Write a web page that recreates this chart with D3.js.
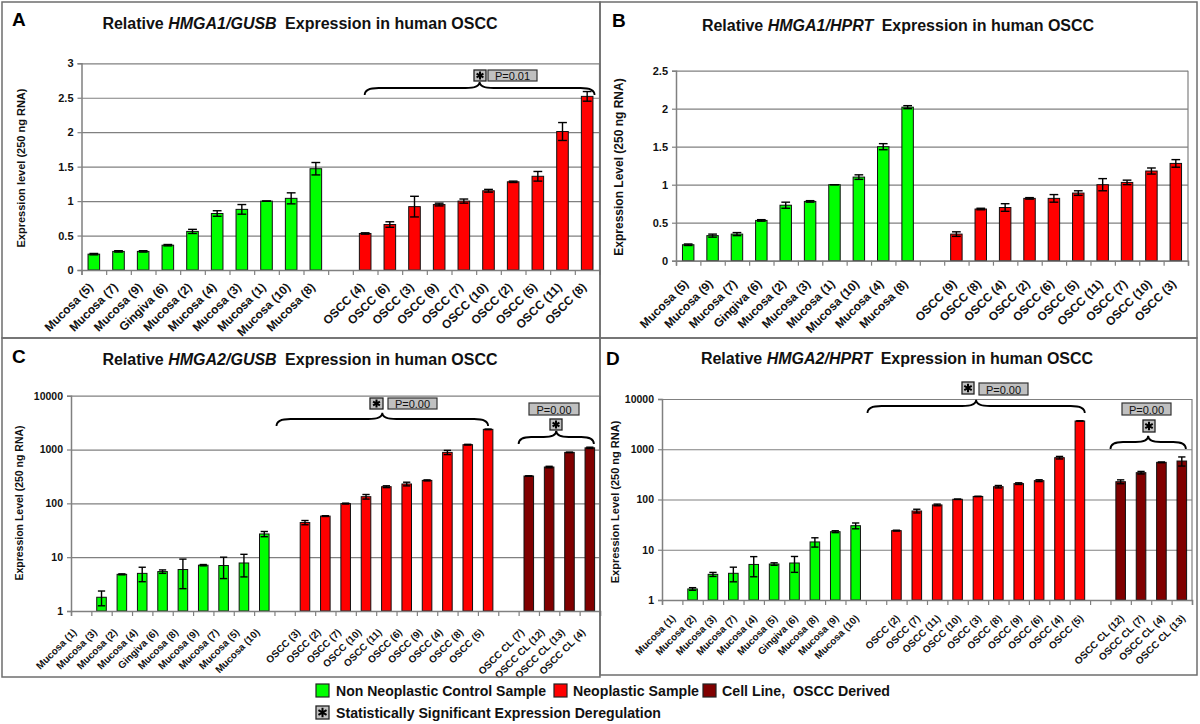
<!DOCTYPE html>
<html><head><meta charset="utf-8">
<script src="https://cdn.jsdelivr.net/npm/d3@7"></script>
<style>
body{margin:0;background:#fff;}
svg{display:block;font-family:Arial,"Liberation Sans",Helvetica,sans-serif;}
</style></head><body>
<svg id="chart" width="1200" height="724"></svg>
<script>
// ---------- DATA ----------
// Panel A: HMGA1/GUSB
const aControlLabels = ["Mucosa (5)","Mucosa (7)","Mucosa (9)","Gingiva (6)","Mucosa (2)","Mucosa (4)","Mucosa (3)","Mucosa (1)","Mucosa (10)","Mucosa (8)"];
const aControlValues = [0.23,0.27,0.27,0.36,0.56,0.82,0.88,1.0,1.04,1.47];
const aControlErrors = [0.01,0.01,0.01,0.01,0.03,0.04,0.07,0.0,0.08,0.09];
const aTumorLabels = ["OSCC (4)","OSCC (6)","OSCC (3)","OSCC (9)","OSCC (7)","OSCC (10)","OSCC (2)","OSCC (5)","OSCC (11)","OSCC (8)"];
const aTumorValues = [0.53,0.66,0.92,0.95,1.0,1.15,1.28,1.36,2.01,2.52];
const aTumorErrors = [0.01,0.04,0.15,0.02,0.03,0.02,0.01,0.07,0.13,0.07];
const aTicks = [0,0.5,1,1.5,2,2.5,3];

// Panel B: HMGA1/HPRT
const bControlLabels = ["Mucosa (5)","Mucosa (9)","Mucosa (7)","Gingiva (6)","Mucosa (2)","Mucosa (3)","Mucosa (1)","Mucosa (10)","Mucosa (4)","Mucosa (8)"];
const bControlValues = [0.21,0.33,0.35,0.53,0.73,0.78,1.0,1.10,1.50,2.02];
const bControlErrors = [0.01,0.02,0.02,0.01,0.04,0.01,0.0,0.03,0.04,0.02];
const bTumorLabels = ["OSCC (9)","OSCC (8)","OSCC (4)","OSCC (2)","OSCC (6)","OSCC (5)","OSCC (11)","OSCC (7)","OSCC (10)","OSCC (3)"];
const bTumorValues = [0.35,0.68,0.70,0.82,0.82,0.89,1.0,1.03,1.18,1.28];
const bTumorErrors = [0.03,0.01,0.05,0.01,0.05,0.03,0.08,0.03,0.04,0.05];
const bTicks = [0,0.5,1,1.5,2,2.5];

// Panel C: HMGA2/GUSB (log scale)
const cControlLabels = ["Mucosa (1)","Mucosa (3)","Mucosa (2)","Mucosa (4)","Gingiva (6)","Mucosa (8)","Mucosa (9)","Mucosa (7)","Mucosa (5)","Mucosa (10)"];
const cControlValues = [0.8,1.8,4.8,5.0,5.4,5.9,7.1,7.0,7.8,27];
const cControlErrors = [0,0.55,0.1,1.5,0.4,3.3,0.2,3.0,3.5,3.0];
const cTumorLabels = ["OSCC (3)","OSCC (2)","OSCC (7)","OSCC (10)","OSCC (11)","OSCC (6)","OSCC (9)","OSCC (4)","OSCC (8)","OSCC (5)"];
const cTumorValues = [44,58,99,133,204,229,267,885,1230,2370];
const cTumorErrors = [4,1,2,13,8,18,6,80,20,30];
const cCellLabels = ["OSCC CL (7)","OSCC CL (12)","OSCC CL (13)","OSCC CL (4)"];
const cCellValues = [322,473,885,1075];
const cCellErrors = [3,15,10,30];
const logTicks = [1,10,100,1000,10000];

// Panel D: HMGA2/HPRT (log scale)
const dControlLabels = ["Mucosa (1)","Mucosa (2)","Mucosa (3)","Mucosa (7)","Mucosa (4)","Mucosa (5)","Gingiva (6)","Mucosa (8)","Mucosa (9)","Mucosa (10)"];
const dControlValues = [0.8,1.66,3.24,3.4,5.1,5.2,5.45,14.3,22.9,30.1];
const dControlErrors = [0,0.1,0.3,1.1,2.2,0.3,1.9,3.0,1.0,4.0];
const dTumorLabels = ["OSCC (2)","OSCC (7)","OSCC (11)","OSCC (10)","OSCC (3)","OSCC (8)","OSCC (9)","OSCC (6)","OSCC (4)","OSCC (5)"];
const dTumorValues = [24,59,78,101,115,180,207,237,680,3650];
const dTumorErrors = [0.5,5,3,1,1,10,8,10,40,30];
const dCellLabels = ["OSCC CL (12)","OSCC CL (7)","OSCC CL (4)","OSCC CL (13)"];
const dCellValues = [226,342,549,583];
const dCellErrors = [20,20,10,120];

const legendLabels = ["Non Neoplastic Control Sample","Neoplastic Sample","Cell Line,  OSCC Derived"];
const starLegendLabel = "Statistically Significant Expression Deregulation";

// ---------- STYLE ----------
const GREEN = "#00ff00", RED = "#ff0000", DARK = "#800000";
const svg = d3.select("#chart");

const panels = [
  {letter:"A", frame:[2,2,600,338], letterPos:[12,26], titleX:300, titleY:29, gene:"HMGA1/GUSB",
   plot:{l:81.5,r:599.5,t:63.3,b:270}, log:false, domain:[0,3], ticks:aTicks,
   ylabel:"Expression level (250 ng RNA)", ylabelPos:[25,168], ylabelSize:11, tickSize:11,
   labelSize:12, labelOff:[0,18],
   groups:[[aControlLabels,aControlValues,aControlErrors,GREEN],[aTumorLabels,aTumorValues,aTumorErrors,RED]],
   braces:[{from:11.48,to:20.8,y:88,star:[474,70,12,11],p:[488,70,49,11],txt:"P=0.01"}]},
  {letter:"B", frame:[600,2,1197,338], letterPos:[612,27], titleX:898, titleY:31, gene:"HMGA1/HPRT",
   plot:{l:676,r:1188,t:70.7,b:260.7}, log:false, domain:[0,2.5], ticks:bTicks,
   ylabel:"Expression Level (250 ng RNA)", ylabelPos:[623,167], ylabelSize:12, tickSize:11,
   labelSize:12, labelOff:[1,24],
   groups:[[bControlLabels,bControlValues,bControlErrors,GREEN],[bTumorLabels,bTumorValues,bTumorErrors,RED]],
   braces:[]},
  {letter:"C", frame:[2,338,600,677], letterPos:[12,363], titleX:300, titleY:365, gene:"HMGA2/GUSB",
   plot:{l:71,r:600,t:395.7,b:611}, log:true, domain:[1,10000], ticks:logTicks,
   ylabel:"Expression Level (250 ng RNA)", ylabelPos:[23,503], ylabelSize:10.5, tickSize:10.5,
   labelSize:10, labelOff:[-4,22],
   groups:[[cControlLabels,cControlValues,cControlErrors,GREEN],[cTumorLabels,cTumorValues,cTumorErrors,RED],[cCellLabels,cCellValues,cCellErrors,DARK]],
   braces:[{from:10.1,to:20.5,y:419,star:[370,398,13,11],p:[388,398,49,11],txt:"P=0.00"},
           {from:22.0,to:25.7,y:437,star:[550,419,12,11],p:[529,403,50,12],txt:"P=0.00"}]},
  {letter:"D", frame:[600,338,1197,675], letterPos:[606,365], titleX:897, titleY:364, gene:"HMGA2/HPRT",
   plot:{l:662,r:1192,t:399,b:600}, log:true, domain:[1,10000], ticks:logTicks,
   ylabel:"Expression Level (250 ng RNA)", ylabelPos:[619,502], ylabelSize:11, tickSize:10.5,
   labelSize:10, labelOff:[4,19],
   groups:[[dControlLabels,dControlValues,dControlErrors,GREEN],[dTumorLabels,dTumorValues,dTumorErrors,RED],[dCellLabels,dCellValues,dCellErrors,DARK]],
   braces:[{from:10.08,to:20.74,y:406,star:[962,382,12,12],p:[979,383,49,12],txt:"P=0.00"},
           {from:22.0,to:25.7,y:442,star:[1143,420,12,12],p:[1122,403,49,12],txt:"P=0.00"}]}
];

function starPath(cx, cy, r){
  let d = "";
  [90, 30, 150].forEach(a => {
    const rad = a*Math.PI/180, dx = r*Math.cos(rad), dy = r*Math.sin(rad);
    d += `M${cx-dx},${cy-dy}L${cx+dx},${cy+dy}`;
  });
  return d;
}
function drawStarBox(g, x, y, w, h){
  g.append("rect").attr("x",x).attr("y",y).attr("width",w).attr("height",h)
    .attr("fill","#c0c0c0").attr("stroke","#222").attr("stroke-width",1.3);
  g.append("path").attr("d",starPath(x+w/2,y+h/2,Math.min(w,h)*0.36))
    .attr("stroke","#000").attr("stroke-width",2).attr("fill","none");
}
function bracePath(x0, x1, y, h){
  const xm = (x0+x1)/2, r = Math.min(14,(x1-x0)/6);
  return `M${x0},${y+h} Q${x0},${y} ${x0+r},${y} L${xm-r},${y} Q${xm},${y} ${xm},${y-h*0.9}` +
         ` Q${xm},${y} ${xm+r},${y} L${x1-r},${y} Q${x1},${y} ${x1},${y+h}`;
}

panels.forEach(P => {
  const g = svg.append("g");
  const [fx0,fy0,fx1,fy1] = P.frame;
  const items = [];
  P.groups.forEach((grp,gi) => {
    if (gi>0) items.push(null);
    grp[0].forEach((lab,i) => items.push({label:lab, value:grp[1][i], err:grp[2][i], color:grp[3]}));
  });
  const n = items.length;
  const {l,r,t,b} = P.plot;
  const xb = d3.scaleBand().domain(d3.range(n)).range([l,r]).paddingInner(0.53).paddingOuter(0.265);
  const xl = d3.scaleLinear().domain([0,n]).range([l,r]);
  const y = (P.log ? d3.scaleLog() : d3.scaleLinear()).domain(P.domain).range([b,t]).clamp(true);

  const grid = g.append("g").attr("transform",`translate(${l},0)`)
    .call(d3.axisLeft(y).tickValues(P.ticks).tickSize(-(r-l)).tickFormat(""));
  grid.select(".domain").remove();
  grid.selectAll("line").attr("stroke","#808080").attr("stroke-width",1.2);
  g.append("line").attr("x1",r).attr("x2",r).attr("y1",t).attr("y2",b).attr("stroke","#808080").attr("stroke-width",1.2);

  const valid = items.map((d,i)=>({d,i})).filter(o => o.d);
  const drawn = valid.filter(o => y(o.d.value) < b-0.5);
  g.selectAll("rect.bar").data(drawn).enter().append("rect")
    .attr("class","bar")
    .attr("x", o => xb(o.i)).attr("width", xb.bandwidth())
    .attr("y", o => y(o.d.value)).attr("height", o => b - y(o.d.value))
    .attr("fill", o => o.d.color).attr("stroke","#111").attr("stroke-width",1);
  const eb = g.selectAll("g.err").data(drawn).enter().append("g").attr("class","err");
  const cap = Math.min(4.5, xb.bandwidth()*0.38);
  const cx = o => xb(o.i)+xb.bandwidth()/2;
  const lo = o => y(Math.max(o.d.value-o.d.err,1e-6)), hi = o => y(o.d.value+o.d.err);
  eb.append("line").attr("x1",cx).attr("x2",cx).attr("y1",lo).attr("y2",hi);
  eb.append("line").attr("x1",o=>cx(o)-cap).attr("x2",o=>cx(o)+cap).attr("y1",hi).attr("y2",hi);
  eb.append("line").attr("x1",o=>cx(o)-cap).attr("x2",o=>cx(o)+cap).attr("y1",lo).attr("y2",lo);
  eb.selectAll("line").attr("stroke","#000").attr("stroke-width",1.4);

  const ya = g.append("g").attr("transform",`translate(${l},0)`)
    .call(d3.axisLeft(y).tickValues(P.ticks).tickSize(4).tickPadding(4)
      .tickFormat(d => P.log ? d3.format("d")(d) : String(d)));
  ya.select(".domain").attr("stroke","#808080").attr("stroke-width",1.5);
  ya.selectAll(".tick line").attr("stroke","#808080").attr("stroke-width",1.2);
  ya.selectAll("text").attr("font-size",P.tickSize).attr("font-weight","bold").attr("fill","#111")
    .attr("font-family","Arial,'Liberation Sans',sans-serif");

  const xa = g.append("g").attr("transform",`translate(0,${b})`)
    .call(d3.axisBottom(xl).tickValues(d3.range(n+1)).tickSize(5).tickFormat(""));
  xa.select(".domain").attr("stroke","#808080").attr("stroke-width",1.5);
  xa.selectAll(".tick line").attr("stroke","#808080").attr("stroke-width",1.2);

  g.selectAll("text.cat").data(valid).enter().append("text").attr("class","cat")
    .attr("transform", o => `translate(${cx(o)+P.labelOff[0]},${b+P.labelOff[1]}) rotate(-45)`)
    .attr("text-anchor","end").attr("font-size",P.labelSize).attr("font-weight","bold").attr("fill","#111")
    .text(o => o.d.label);

  g.append("text").attr("transform",`translate(${P.ylabelPos[0]},${P.ylabelPos[1]}) rotate(-90)`)
    .attr("text-anchor","middle").attr("font-size",P.ylabelSize).attr("font-weight","bold").attr("fill","#111")
    .text(P.ylabel);

  const tt = g.append("text").attr("x",P.titleX).attr("y",P.titleY).attr("text-anchor","middle")
    .attr("font-size",16).attr("font-weight","bold").attr("fill","#111");
  tt.append("tspan").text("Relative ");
  tt.append("tspan").attr("font-style","italic").text(P.gene);
  tt.append("tspan").attr("dx",4).text(" Expression in human OSCC");

  g.append("text").attr("x",P.letterPos[0]).attr("y",P.letterPos[1]).attr("font-size",19)
    .attr("font-weight","bold").attr("fill","#000").text(P.letter);

  P.braces.forEach(B => {
    g.append("path").attr("d",bracePath(xl(B.from), xl(B.to), B.y, 7))
      .attr("fill","none").attr("stroke","#000").attr("stroke-width",1.8);
    drawStarBox(g, ...B.star);
    g.append("rect").attr("x",B.p[0]).attr("y",B.p[1]).attr("width",B.p[2]).attr("height",B.p[3])
      .attr("fill","#c0c0c0").attr("stroke","#333").attr("stroke-width",1.2);
    g.append("text").attr("x",B.p[0]+B.p[2]/2).attr("y",B.p[1]+B.p[3]-1.5).attr("text-anchor","middle")
      .attr("font-size",11).attr("fill","#111").text(B.txt);
  });

  g.append("rect").attr("x",fx0).attr("y",fy0).attr("width",fx1-fx0).attr("height",fy1-fy0)
    .attr("fill","none").attr("stroke","#6e6e6e").attr("stroke-width",1.5);
});

// ---------- LEGEND ----------
const leg = svg.append("g");
const legColors = [GREEN, RED, DARK];
const legBoxX = [316, 554, 703];
const legTextX = [336, 573, 722];
const legTextW = [210, 126, 168];
legendLabels.forEach((lab,i) => {
  leg.append("rect").attr("x",legBoxX[i]).attr("y",684).attr("width",13).attr("height",13)
    .attr("fill",legColors[i]).attr("stroke","#222").attr("stroke-width",1.2);
  leg.append("text").attr("x",legTextX[i]).attr("y",696).attr("font-size",15).attr("font-weight","bold")
    .attr("fill","#111").style("white-space","pre")
    .attr("textLength",legTextW[i]).attr("lengthAdjust","spacingAndGlyphs").text(lab);
});
drawStarBox(leg, 316, 706, 13, 13);
leg.append("text").attr("x",336).attr("y",718).attr("font-size",15).attr("font-weight","bold")
  .attr("fill","#111").attr("textLength",325).attr("lengthAdjust","spacingAndGlyphs").text(starLegendLabel);
</script>
</body></html>
